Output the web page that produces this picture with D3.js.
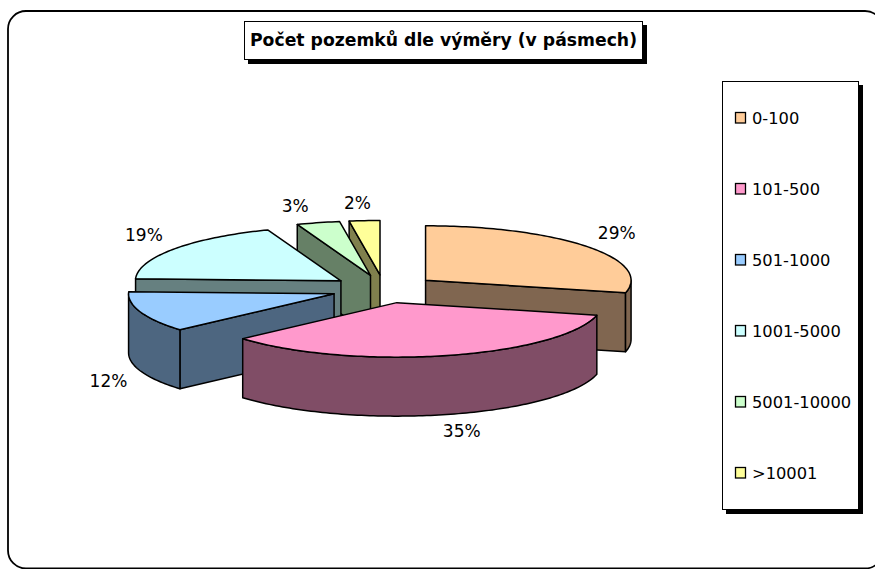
<!DOCTYPE html>
<html><head><meta charset="utf-8">
<script src="https://cdn.jsdelivr.net/npm/d3@7"></script>
<style>html,body{margin:0;padding:0;background:#fff;overflow:hidden}svg{display:block}
text{font-family:"DejaVu Sans",sans-serif;fill:#000}</style></head>
<body><div id="chart"></div>
<script>
const title = "Počet pozemků dle výměry (v pásmech)";
const categories = ["0-100","101-500","501-1000","1001-5000","5001-10000",">10001"];
const shares = [28.7,34.8,12.1,18.6,3.4,2.4];
const topColors = ["#FFCC99","#FF99CC","#99CCFF","#CCFFFF","#CCFFCC","#FFFF99"];
const sideColors = ["#806650","#804D66","#4D6680","#668080","#668066","#80804D"];
const drawOrder = [5,4,3,0,2,1];
const labelNudge = [[30,-13],[15,16],[-32,10],[-30,-14],[-23,-17],[-7,-18]];

const W=875,H=569;
const cx=384,cy=289,R=205.5,Ry=54.5,depth=59,explode=53;
const svg=d3.select("#chart").append("svg").attr("width",W).attr("height",H);

svg.append("rect").attr("x",8).attr("y",11).attr("width",875).attr("height",557.5)
  .attr("rx",18).attr("fill","#fff").attr("stroke","#000").attr("stroke-width",1.8);

const arcs=d3.pie().sort(null).value(d=>d)(shares);
const sx=d3.scaleLinear().domain([-1,1]).range([-R,R]);
const sy=d3.scaleLinear().domain([-1,1]).range([Ry,-Ry]);
const apex=a=>{const m=(a.startAngle+a.endAngle)/2;
  return [cx+explode*Math.sin(m), cy-explode*(Ry/R)*Math.cos(m)];};
const rim=(o,t,dz=0)=>[o[0]+sx(Math.sin(t)),o[1]+sy(Math.cos(t))+dz];
const line=d3.line();
const arcPts=(o,a,b,dz=0)=>{const n=Math.max(2,Math.ceil((b-a)/0.02));
  return d3.range(n+1).map(i=>rim(o,a+(b-a)*i/n,dz));};
const style=s=>s.attr("stroke","#000").attr("stroke-width",1.5).attr("stroke-linejoin","round");

const plot=svg.append("g");
drawOrder.forEach(i=>{
  const a=arcs[i],o=apex(a),g=plot.append("g");
  const s0=a.startAngle,s1=a.endAngle;
  const radial=t=>{const p=rim(o,t);
    style(g.append("path")).attr("fill",sideColors[i])
     .attr("d",line([o,p,[p[0],p[1]+depth],[o[0],o[1]+depth]])+"Z");};
  if(Math.sin(s0)<-1e-6) radial(s0);
  if(Math.sin(s1)>1e-6) radial(s1);
  const w0=Math.max(s0,Math.PI/2),w1=Math.min(s1,Math.PI*1.5);
  if(w1>w0){
    const up=arcPts(o,w0,w1),dn=arcPts(o,w0,w1,depth).reverse();
    style(g.append("path")).attr("fill",sideColors[i]).attr("d",line(up.concat(dn))+"Z");
  }
  style(g.append("path")).attr("fill",topColors[i])
    .attr("d",line([o].concat(arcPts(o,s0,s1)))+"Z");
  const m=(s0+s1)/2,lp=rim(o,m,Math.cos(m)<0?depth:0);
  svg.append("text").attr("class","lab").attr("text-anchor","middle")
    .attr("x",lp[0]+labelNudge[i][0]).attr("y",lp[1]+labelNudge[i][1]+6)
    .attr("font-size",17).text(Math.round(shares[i])+"%");
});

const boxed=(x,y,w,h)=>{
  svg.append("rect").attr("x",x+4).attr("y",y+4).attr("width",w+1).attr("height",h+1).attr("fill","#000");
  svg.append("rect").attr("x",x+.5).attr("y",y+.5).attr("width",w).attr("height",h)
    .attr("fill","#fff").attr("stroke","#000").attr("stroke-width",1);
};
boxed(244,21,398,38);
svg.append("text").attr("x",443.5).attr("y",45.5).attr("text-anchor","middle")
  .attr("font-size",17).attr("font-weight","bold").attr("textLength",387).attr("lengthAdjust","spacingAndGlyphs").text(title);

boxed(722,81,136,428);
const ly=d3.scalePoint().domain(categories).range([118,473]);
categories.forEach((c,i)=>{
  svg.append("rect").attr("x",735.5).attr("y",ly(c)-5.5).attr("width",10).attr("height",10.5)
    .attr("fill",topColors[i]).attr("stroke","#000").attr("stroke-width",1.3);
  svg.append("text").attr("x",752).attr("y",ly(c)+6).attr("font-size",16.3).text(c);
});
</script></body></html>
